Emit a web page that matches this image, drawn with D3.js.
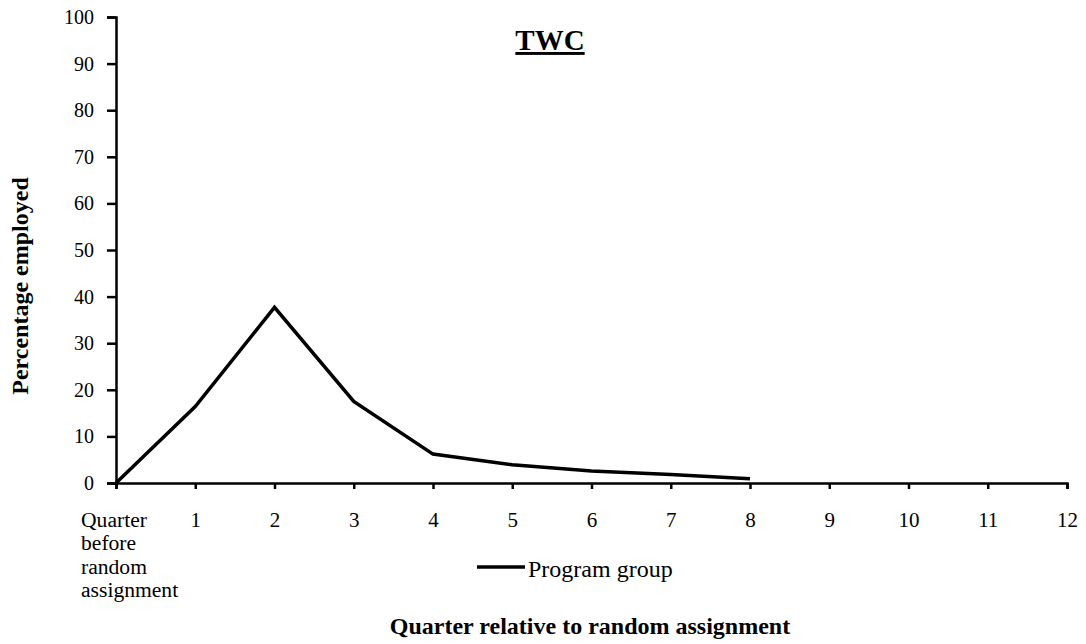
<!DOCTYPE html>
<html>
<head>
<meta charset="utf-8">
<script src="https://cdn.jsdelivr.net/npm/d3@7"></script>
<style>
  body { margin: 0; background: #fff; }
  #chart { width: 1086px; height: 644px; }
  text { font-family: "Liberation Serif", "Times New Roman", serif; fill: #000; }
  .axis path, .axis line { stroke: #000; stroke-width: 2.5px; }
  .axis text { font-size: 21px; font-family: "Liberation Serif", "Times New Roman", serif; }
  .axisLabel { font-size: 24px; font-weight: bold; }
</style>
</head>
<body>
<div id="chart"></div>
<script>
// quarter relative to random assignment (0 = quarter before)
const quarters = [0, 1, 2, 3, 4, 5, 6, 7, 8, 9, 10, 11, 12];
const programQuarters = [0, 1, 2, 3, 4, 5, 6, 7, 8];
const programGroup = [0, 16.4, 37.7, 17.5, 6.2, 3.9, 2.6, 1.8, 0.9];
const yTicks = [0, 10, 20, 30, 40, 50, 60, 70, 80, 90, 100];
const firstTickLabel = ["Quarter", "before", "random", "assignment"];

const width = 1086;
const height = 644;
const margin = {top: 17, left: 116, right: 19, bottom: 161};

const svg = d3.select("#chart")
    .append("svg")
    .attr("width", width)
    .attr("height", height);

// Scales
const xScale = d3.scaleLinear()
    .domain([0, 12])
    .range([margin.left, width - margin.right]);

const yScale = d3.scaleLinear()
    .domain([0, 100])
    .range([height - margin.bottom, margin.top]);

// Axes
const xAxis = svg.append("g")
    .attr("class", "axis")
    .attr("transform", `translate(0,${height - margin.bottom})`)
    .call(d3.axisBottom(xScale).tickValues(quarters).tickSizeOuter(0).tickSize(6).tickPadding(23)
        .tickFormat(d => d === 0 ? "" : d));

// multi-line label under the first tick (wrapped, left aligned)
const firstLabel = xAxis.append("text")
    .attr("x", xScale(0) - 35)
    .attr("y", 44)
    .attr("text-anchor", "start")
    .style("font-size", "21.6px");
firstLabel.selectAll("tspan")
    .data(firstTickLabel)
    .enter()
    .append("tspan")
    .attr("x", xScale(0) - 35)
    .attr("dy", (d, i) => i === 0 ? 0 : 23.3)
    .text(d => d);

const yAxis = svg.append("g")
    .attr("class", "axis")
    .attr("transform", `translate(${margin.left},0)`)
    .call(d3.axisLeft(yScale).tickValues(yTicks).tickSizeOuter(0).tickSize(9).tickPadding(13));
yAxis.selectAll(".tick text").style("font-size", "20px");

// Axis labels
svg.append("text")
    .attr("class", "axisLabel")
    .attr("x", 590)
    .attr("y", 634)
    .attr("text-anchor", "middle")
    .text("Quarter relative to random assignment");

svg.append("text")
    .attr("class", "axisLabel")
    .attr("transform", "translate(28,286) rotate(-90)")
    .attr("text-anchor", "middle")
    .text("Percentage employed");

// Title
svg.append("text")
    .attr("x", 550)
    .attr("y", 50)
    .attr("text-anchor", "middle")
    .style("font-size", "29px")
    .style("font-weight", "bold")
    .style("text-decoration", "underline")
    .text("TWC");

// Line
const line = d3.line()
    .x((d, i) => xScale(programQuarters[i]))
    .y(d => yScale(d));

svg.append("path")
    .datum(programGroup)
    .attr("fill", "none")
    .attr("stroke", "#000")
    .attr("stroke-width", 3.5)
    .attr("stroke-linejoin", "miter")
    .attr("d", line);

// Legend
const legend = svg.append("g").attr("transform", "translate(477,567)");
legend.append("line")
    .attr("x1", 0).attr("x2", 48)
    .attr("stroke", "#000").attr("stroke-width", 3.5);
legend.append("text")
    .attr("x", 51)
    .attr("y", 10)
    .style("font-size", "24px")
    .text("Program group");
</script>
</body>
</html>
